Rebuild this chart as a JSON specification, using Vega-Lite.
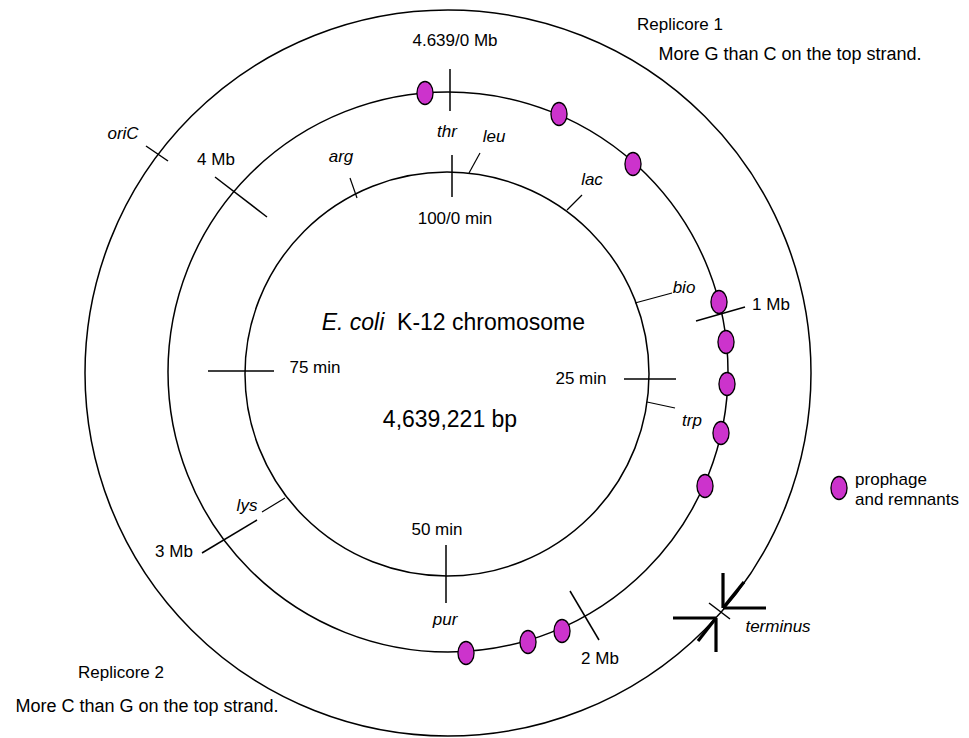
{
  "$schema": "https://vega.github.io/schema/vega-lite/v6.json",
  "width": 969,
  "height": 738,
  "autosize": "none",
  "padding": 0,
  "background": "white",
  "config": {"view": {"stroke": null}},
  "datasets": {
    "rings": [
      {"ring": "inner", "x": 447, "y": 374, "r": 202},
      {"ring": "middle", "x": 448, "y": 372, "r": 280},
      {"ring": "outer", "x": 448, "y": 373, "r": 363}
    ],
    "ticks": [
      {"name": "4.639/0 Mb", "x": 450, "y": 69, "x2": 450, "y2": 111},
      {"name": "100/0 min", "x": 452, "y": 155, "x2": 452, "y2": 197},
      {"name": "oriC", "x": 146, "y": 146, "x2": 168, "y2": 161},
      {"name": "4 Mb", "x": 215, "y": 177, "x2": 267, "y2": 217},
      {"name": "1 Mb", "x": 696, "y": 321, "x2": 745, "y2": 307},
      {"name": "75 min", "x": 208, "y": 371, "x2": 274, "y2": 371},
      {"name": "25 min", "x": 624, "y": 379, "x2": 676, "y2": 379},
      {"name": "50 min", "x": 446, "y": 545, "x2": 446, "y2": 603},
      {"name": "2 Mb", "x": 570, "y": 591, "x2": 599, "y2": 640},
      {"name": "3 Mb", "x": 202, "y": 553, "x2": 257, "y2": 520},
      {"name": "terminus", "x": 709, "y": 603, "x2": 730, "y2": 619}
    ],
    "leaders": [
      {"gene": "leu", "x": 480, "y": 153, "x2": 469, "y2": 173},
      {"gene": "arg", "x": 350, "y": 178, "x2": 357, "y2": 198},
      {"gene": "lac", "x": 582, "y": 195, "x2": 567, "y2": 210},
      {"gene": "bio", "x": 672, "y": 293, "x2": 635, "y2": 303},
      {"gene": "trp", "x": 647, "y": 402, "x2": 675, "y2": 408},
      {"gene": "lys", "x": 262, "y": 512, "x2": 285, "y2": 498}
    ],
    "arrows": [
      {"part": "upper vertical", "x": 723, "y": 573, "x2": 723, "y2": 608},
      {"part": "upper horizontal", "x": 723, "y": 608, "x2": 766, "y2": 608},
      {"part": "upper shaft", "x": 723, "y": 608, "x2": 744, "y2": 582},
      {"part": "lower horizontal", "x": 673, "y": 618, "x2": 716, "y2": 618},
      {"part": "lower vertical", "x": 716, "y": 618, "x2": 716, "y2": 652},
      {"part": "lower shaft", "x": 716, "y": 618, "x2": 698, "y2": 641}
    ],
    "prophages": [
      {"id": 1, "x": 425, "y": 93},
      {"id": 2, "x": 559, "y": 114},
      {"id": 3, "x": 633, "y": 164},
      {"id": 4, "x": 719, "y": 302},
      {"id": 5, "x": 726, "y": 342},
      {"id": 6, "x": 727, "y": 384},
      {"id": 7, "x": 721, "y": 433},
      {"id": 8, "x": 705, "y": 486},
      {"id": 9, "x": 562, "y": 631},
      {"id": 10, "x": 528, "y": 642},
      {"id": 11, "x": 466, "y": 653},
      {"id": "legend", "x": 839, "y": 488}
    ],
    "labels": [
      {"label": "4.639/0 Mb", "x": 455, "y": 41},
      {"label": "100/0 min", "x": 455, "y": 219},
      {"label": "4 Mb", "x": 216, "y": 160},
      {"label": "1 Mb", "x": 771, "y": 305},
      {"label": "75 min", "x": 315, "y": 368},
      {"label": "25 min", "x": 581, "y": 379},
      {"label": "3 Mb", "x": 174, "y": 552},
      {"label": "50 min", "x": 437, "y": 530},
      {"label": "2 Mb", "x": 600, "y": 659},
      {"label": "prophage", "x": 891, "y": 480},
      {"label": "and remnants", "x": 907, "y": 500},
      {"label": "Replicore 1", "x": 680, "y": 25},
      {"label": "Replicore 2", "x": 121, "y": 673}
    ],
    "sentences": [
      {"label": "More G than C on the top strand.", "x": 790, "y": 55},
      {"label": "More C than G on the top strand.", "x": 147, "y": 707}
    ],
    "italics": [
      {"label": "thr", "x": 447, "y": 132},
      {"label": "leu", "x": 494, "y": 137},
      {"label": "oriC", "x": 123, "y": 134},
      {"label": "arg", "x": 341, "y": 157},
      {"label": "lac", "x": 592, "y": 180},
      {"label": "bio", "x": 684, "y": 288},
      {"label": "trp", "x": 692, "y": 421},
      {"label": "lys", "x": 247, "y": 506},
      {"label": "pur", "x": 445, "y": 620},
      {"label": "terminus", "x": 778, "y": 627}
    ],
    "titles": [
      {"label": "K-12 chromosome", "x": 491, "y": 323},
      {"label": "4,639,221 bp", "x": 450, "y": 420}
    ],
    "titleItalic": [
      {"label": "E. coli", "x": 353, "y": 323}
    ]
  },
  "encoding": {
    "x": {"field": "x", "type": "quantitative", "scale": {"domain": [0, 969], "nice": false, "zero": false}, "axis": null},
    "y": {"field": "y", "type": "quantitative", "scale": {"domain": [0, 738], "nice": false, "zero": false, "reverse": true}, "axis": null}
  },
  "layer": [
    {
      "data": {"name": "rings"},
      "mark": {"type": "point", "shape": "circle", "filled": false, "stroke": "black", "strokeWidth": 1.5, "opacity": 1},
      "encoding": {
        "size": {"field": "r", "type": "quantitative", "legend": null, "scale": {"type": "pow", "exponent": 2, "domain": [0, 400], "range": [0, 640000], "zero": true}}
      }
    },
    {
      "data": {"name": "ticks"},
      "mark": {"type": "rule", "color": "black", "strokeWidth": 1.5},
      "encoding": {
        "x2": {"field": "x2"},
        "y2": {"field": "y2"}
      }
    },
    {
      "data": {"name": "leaders"},
      "mark": {"type": "rule", "color": "black", "strokeWidth": 1.2},
      "encoding": {
        "x2": {"field": "x2"},
        "y2": {"field": "y2"}
      }
    },
    {
      "data": {"name": "arrows"},
      "mark": {"type": "rule", "color": "black", "strokeWidth": 3.2},
      "encoding": {
        "x2": {"field": "x2"},
        "y2": {"field": "y2"}
      }
    },
    {
      "data": {"name": "prophages"},
      "mark": {"type": "point", "shape": "M0,-1A0.7,1 0 1,1 0,1A0.7,1 0 1,1 0,-1Z", "size": 529, "filled": true, "fill": "#cc33cc", "stroke": "black", "strokeWidth": 1.3, "opacity": 1}
    },
    {
      "data": {"name": "labels"},
      "mark": {"type": "text", "font": "Liberation Sans", "fontSize": 17, "align": "center", "baseline": "middle", "color": "black"},
      "encoding": {"text": {"field": "label"}}
    },
    {
      "data": {"name": "sentences"},
      "mark": {"type": "text", "font": "Liberation Sans", "fontSize": 18, "align": "center", "baseline": "middle", "color": "black"},
      "encoding": {"text": {"field": "label"}}
    },
    {
      "data": {"name": "italics"},
      "mark": {"type": "text", "font": "Liberation Sans", "fontSize": 17, "fontStyle": "italic", "align": "center", "baseline": "middle", "color": "black"},
      "encoding": {"text": {"field": "label"}}
    },
    {
      "data": {"name": "titles"},
      "mark": {"type": "text", "font": "Liberation Sans", "fontSize": 23, "align": "center", "baseline": "middle", "color": "black"},
      "encoding": {"text": {"field": "label"}}
    },
    {
      "data": {"name": "titleItalic"},
      "mark": {"type": "text", "font": "Liberation Sans", "fontSize": 23, "fontStyle": "italic", "align": "center", "baseline": "middle", "color": "black"},
      "encoding": {"text": {"field": "label"}}
    }
  ]
}
